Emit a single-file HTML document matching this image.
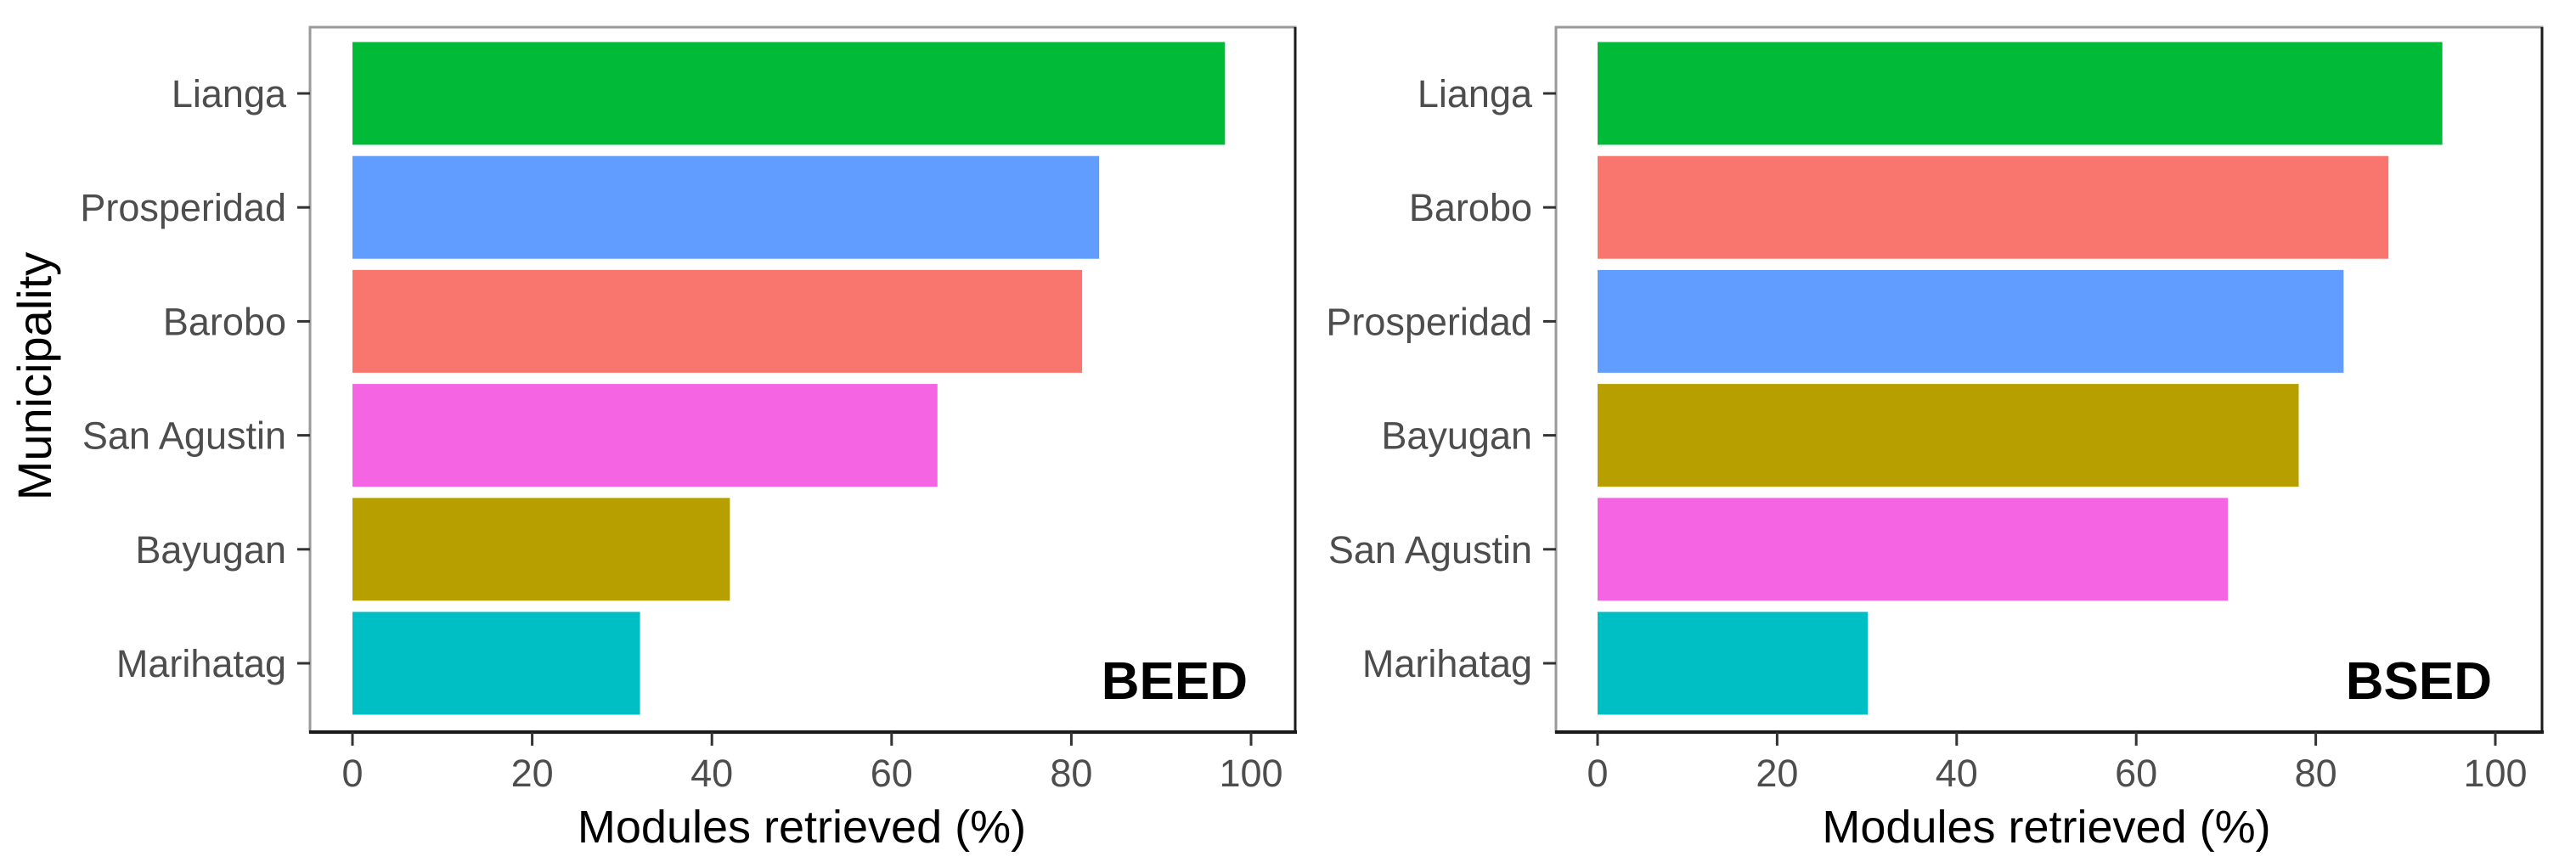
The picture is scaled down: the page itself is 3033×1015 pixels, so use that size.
<!DOCTYPE html>
<html><head><meta charset="utf-8"><style>
html,body{margin:0;padding:0;background:#fff;}
svg{display:block;font-family:"Liberation Sans",Arial,sans-serif;}
</style></head><body>
<svg id="chart" width="3033" height="1015" viewBox="0 0 3033 1015" xmlns="http://www.w3.org/2000/svg"></svg>
<script>
const beedCategories = ["Lianga","Prosperidad","Barobo","San Agustin","Bayugan","Marihatag"];
const beedValues = [97.1, 83.1, 81.2, 65.1, 42, 32];
const bsedCategories = ["Lianga","Barobo","Prosperidad","Bayugan","San Agustin","Marihatag"];
const bsedValues = [94.1, 88.1, 83.1, 78.1, 70.2, 30.1];
const xTicks = [0, 20, 40, 60, 80, 100];
const colorOf = {"Lianga":"#00BA38","Prosperidad":"#619CFF","Barobo":"#F8766D","San Agustin":"#F564E3","Bayugan":"#B79F00","Marihatag":"#00BFC4"};

const NS = "http://www.w3.org/2000/svg";
const svg = document.getElementById('chart');
function mk(tag, attrs, parent){const e=document.createElementNS(NS,tag);for(const k in attrs)e.setAttribute(k,attrs[k]);(parent||svg).appendChild(e);return e;}

function panel(name, cats, vals, box, x0, x100, label){
  const g = mk('g',{});
  
  
  const xs = v => x0 + (x100-x0)*v/100;
  const top=box.top, bottom=box.bottom;
  const band = 134.2, firstC = 110;
  const yc = i => firstC + i*band;
  const bh = 121;
  // bars
  cats.forEach((c,i)=>{
    const r = mk('rect',{x:xs(0),y:yc(i)-bh/2,width:xs(vals[i])-xs(0),height:bh,fill:colorOf[c]},g);
    
    
  });
  // border
  const b = mk('rect',{x:box.left,y:top,width:box.right-box.left,height:bottom-top,fill:'none',stroke:'#9a9a9a','stroke-width':3},g);
  
  
  mk('line',{x1:box.right,y1:top,x2:box.right,y2:bottom+2,stroke:'#1a1a1a','stroke-width':3},g);
  const xa = mk('line',{x1:box.left-1,y1:bottom,x2:box.right+2,y2:bottom,stroke:'#1a1a1a','stroke-width':4},g);
  
  
  // y ticks + labels
  cats.forEach((c,i)=>{
    mk('line',{x1:box.left-15,y1:yc(i),x2:box.left,y2:yc(i),stroke:'#333','stroke-width':3},g);
    const t = mk('text',{x:box.left-28,y:yc(i)+16,'text-anchor':'end','font-size':45,fill:'#4d4d4d'},g);
    t.textContent = c;
    
    
  });
  // x ticks
  xTicks.forEach(v=>{
    mk('line',{x1:xs(v),y1:bottom,x2:xs(v),y2:bottom+16,stroke:'#333','stroke-width':3},g);
    const t = mk('text',{x:xs(v),y:926,'text-anchor':'middle','font-size':45,fill:'#4d4d4d'},g);
    t.textContent = v;
    
    
  });
  const xt = mk('text',{x:(xs(0)+xs(100))/2,y:992,'text-anchor':'middle','font-size':54,fill:'#000'},g);
  xt.textContent = 'Modules retrieved (%)';
  
  
  const pl = mk('text',{x:xs(100)-4,y:823,'text-anchor':'end','font-size':62,'font-weight':'bold',fill:'#000'},g);
  pl.textContent = label;
  
  
}
panel('beed', beedCategories, beedValues, {left:365,right:1525,top:32,bottom:862}, 415, 1473, 'BEED');
panel('bsed', bsedCategories, bsedValues, {left:1832,right:2993,top:32,bottom:862}, 1881, 2938, 'BSED');
const yt = mk('text',{x:0,y:0,'text-anchor':'middle','font-size':56,fill:'#000',transform:'translate(60,443) rotate(-90)'});
yt.textContent = 'Municipality';


</script>
</body></html>
